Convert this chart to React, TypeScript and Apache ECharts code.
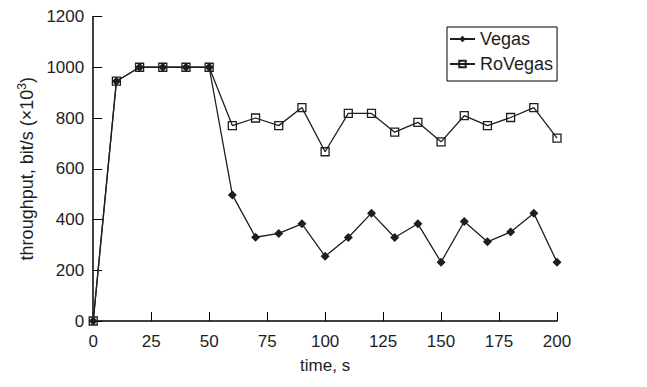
import React, { useEffect, useRef } from "react";
import * as echarts from "echarts";

// Sampling instants (s)
const times = [0, 10, 20, 30, 40, 50, 60, 70, 80, 90, 100, 110, 120, 130, 140, 150, 160, 170, 180, 190, 200];

// Throughput, bit/s (×10³)
const vegas = [0, 945, 1000, 1000, 1000, 1000, 497, 330, 345, 383, 255, 329, 425, 329, 383, 232, 392, 312, 351, 425, 232];
const roVegas = [0, 945, 1000, 1000, 1000, 1000, 770, 800, 770, 841, 667, 818, 818, 744, 783, 706, 809, 770, 802, 841, 721];

const xTicks = [0, 25, 50, 75, 100, 125, 150, 175, 200];
const yTicks = [0, 200, 400, 600, 800, 1000, 1200];

const FONT = "Liberation Sans, Arial, Helvetica, sans-serif";
const INK = "#1e1e1e";

export default function App() {
  const ref = useRef<HTMLDivElement>(null);

  useEffect(() => {
    if (!ref.current) return;
    const chart = echarts.init(ref.current, null, { renderer: "svg" });
    chart.setOption({
      animation: false,
      backgroundColor: "#ffffff",
      grid: { left: 83, right: 82, top: 4, bottom: 55, containLabel: false },
      legend: {
        orient: "vertical",
        left: 439,
        top: 19,
        borderColor: "#000",
        borderWidth: 1,
        padding: [3, 4, 8, 2],
        itemGap: 7,
        itemWidth: 25,
        itemHeight: 8,
        textStyle: { fontFamily: FONT, fontSize: 18, color: INK },
        data: ["Vegas", "RoVegas"],
      },
      xAxis: {
        type: "value",
        min: xTicks[0],
        max: xTicks[xTicks.length - 1],
        interval: 25,
        name: "time, s",
        nameLocation: "middle",
        nameGap: 36,
        nameTextStyle: { fontFamily: FONT, fontSize: 17, color: INK },
        axisLine: { lineStyle: { color: "#000", width: 1.5 } },
        axisTick: { inside: true, length: 9, lineStyle: { color: "#000", width: 1 } },
        axisLabel: { fontFamily: FONT, fontSize: 17, color: INK, margin: 12 },
        splitLine: { show: false },
      },
      yAxis: {
        type: "value",
        min: yTicks[0],
        max: yTicks[yTicks.length - 1],
        interval: 200,
        name: "throughput, bit/s (×10{sup|3})",
        nameLocation: "middle",
        nameGap: 55,
        nameTextStyle: {
          fontFamily: FONT,
          fontSize: 18,
          color: INK,
          rich: {
            sup: { fontFamily: FONT, fontSize: 12, color: INK, verticalAlign: "bottom", padding: [0, 0, 9, 0] },
          },
        },
        axisLine: { lineStyle: { color: "#000", width: 1.5 } },
        axisTick: { inside: true, length: 9, lineStyle: { color: "#000", width: 1 } },
        axisLabel: {
          fontFamily: FONT,
          fontSize: 17,
          color: INK,
          margin: 9,
          formatter: (v: number) => String(v),
        },
        splitLine: { show: false },
      },
      series: [
        {
          name: "Vegas",
          type: "line",
          data: times.map((t, i) => [t, vegas[i]]),
          symbol: "diamond",
          symbolSize: 9,
          lineStyle: { color: INK, width: 1.3 },
          itemStyle: { color: INK },
          z: 2,
        },
        {
          name: "RoVegas",
          type: "line",
          data: times.map((t, i) => [t, roVegas[i]]),
          symbol: "rect",
          symbolSize: 8,
          lineStyle: { color: INK, width: 1.3 },
          itemStyle: { color: "rgba(255,255,255,0)", borderColor: INK, borderWidth: 1.3 },
          z: 3,
        },
      ],
    });
    return () => chart.dispose();
  }, []);

  return <div ref={ref} style={{ width: 631, height: 371 }} />;
}
